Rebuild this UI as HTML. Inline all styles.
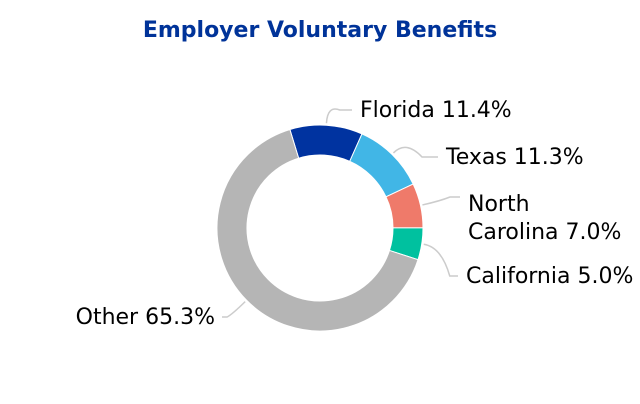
<!DOCTYPE html>
<html><head><meta charset="utf-8"><style>
body{margin:0;background:#fff;width:640px;height:400px;overflow:hidden;font-family:"DejaVu Sans","Liberation Sans",sans-serif;}
</style></head><body>
<svg width="640" height="400">
<text x="320" y="37" text-anchor="middle" font-size="22" font-weight="bold" fill="#003399">Employer Voluntary Benefits</text>
<g id="slices"></g>
<g id="labels"></g>
</svg>
<script>
const categories=["Florida","Texas","North Carolina","California","Other"];
const values=[11.4,11.3,7.0,5.0,65.3];
const colors=["#0033a0","#41b6e6","#ef7a6a","#00c19f","#b5b5b5"];
const cx=320,cy=228,R=103,r=73,start=-17;
const ns="http://www.w3.org/2000/svg";
const total=values.reduce((a,b)=>a+b,0);
function pt(a,rad){const t=(a-90)*Math.PI/180;return [cx+rad*Math.cos(t),cy+rad*Math.sin(t)];}
const sg=document.getElementById('slices'),lg=document.getElementById('labels');
let a=start;
const labelPos=[[360,117,["Florida 11.4%"]],[446,164,["Texas 11.3%"]],[468,211,["North","Carolina 7.0%"]],[466,283,["California 5.0%"]],[215,324,["Other 65.3%"]]];
values.forEach((v,i)=>{
  const a2=a+v/total*360,large=(a2-a)>180?1:0;
  const p1=pt(a,R),p2=pt(a2,R),p3=pt(a2,r),p4=pt(a,r);
  const p=document.createElementNS(ns,'path');
  p.setAttribute('d',`M${p1}A${R},${R} 0 ${large} 1 ${p2}L${p3}A${r},${r} 0 ${large} 0 ${p4}Z`);
  p.setAttribute('fill',colors[i]);p.setAttribute('stroke','#fff');p.setAttribute('stroke-width','1');
  
  
  sg.appendChild(p);
  const mid=(a+a2)/2,s=pt(mid,R+2),e=pt(mid,R+20);
  const lp=labelPos[i],right=lp[0]>cx;
  const ex=right?lp[0]-8:lp[0]+7,ey=lp[1]-(lp[2].length>1?14:7);
  const l=document.createElementNS(ns,'path');
  l.setAttribute('d',`M${s}Q${e} ${(e[0]+ex)/2},${ey}L${ex},${ey}`);
  l.setAttribute('fill','none');l.setAttribute('stroke','#ccc');l.setAttribute('stroke-width','1.5');
  
  
  lg.appendChild(l);
  const t=document.createElementNS(ns,'text');
  t.setAttribute('x',lp[0]);t.setAttribute('y',lp[1]);
  t.setAttribute('font-size','22');t.setAttribute('fill','#000');
  t.setAttribute('text-anchor',right?'start':'end');
  
  
  lp[2].forEach((line,j)=>{const ts=document.createElementNS(ns,'tspan');ts.setAttribute('x',lp[0]);if(j)ts.setAttribute('dy','28');ts.textContent=line;t.appendChild(ts);});
  lg.appendChild(t);
  a=a2;
});
</script>
</body></html>
